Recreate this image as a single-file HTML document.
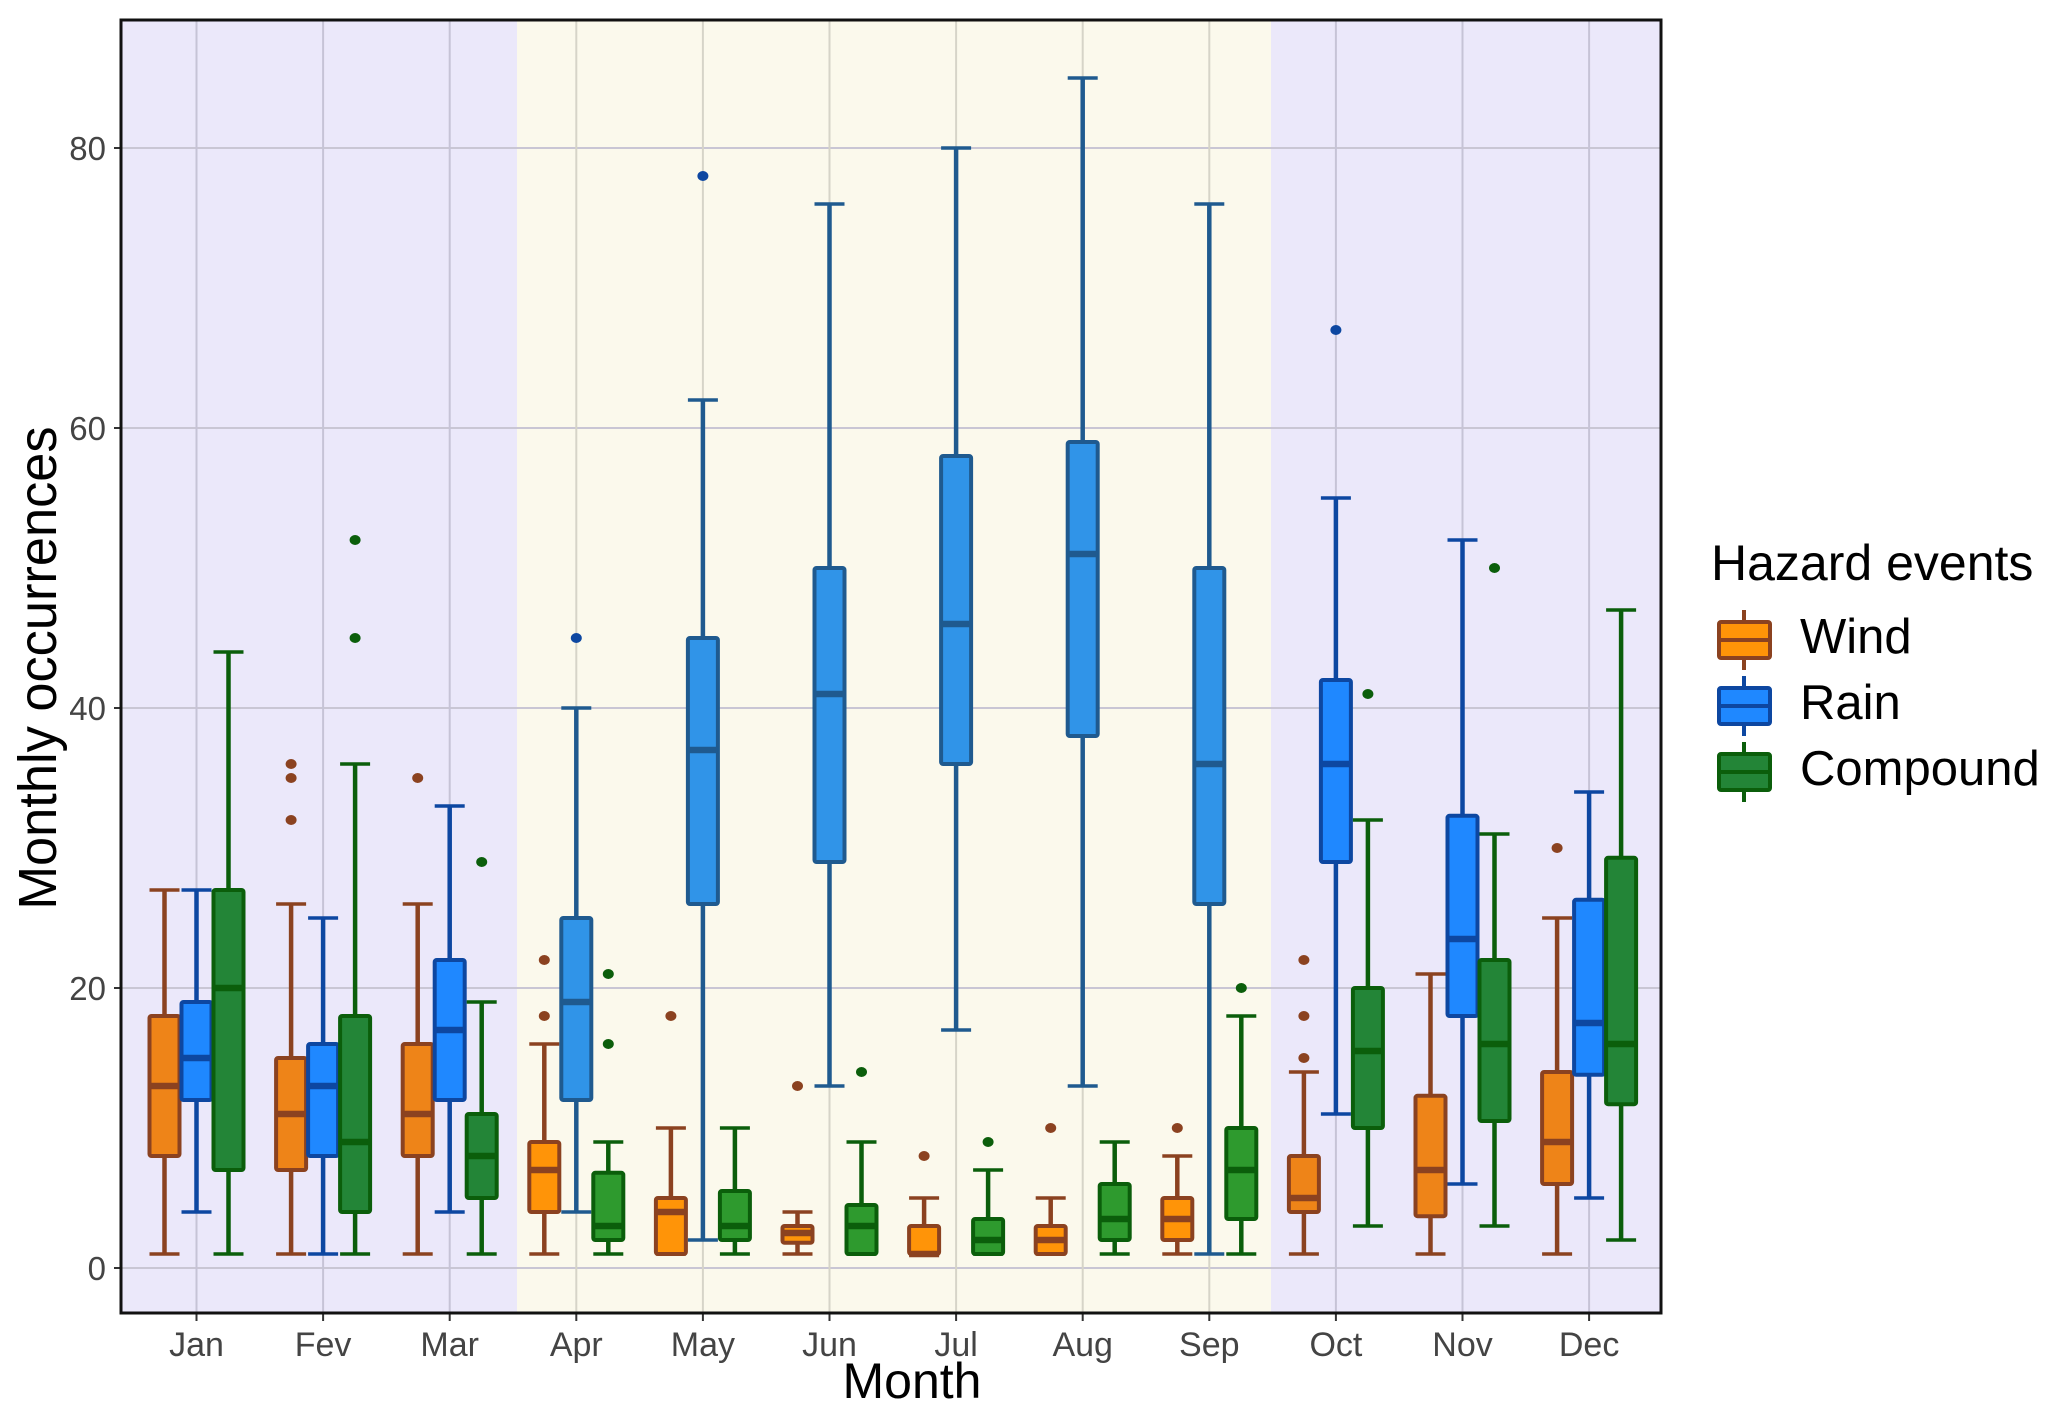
<!DOCTYPE html>
<html><head><meta charset="utf-8"><style>
html,body{margin:0;padding:0;background:#fff;}
svg{display:block;font-family:"Liberation Sans",sans-serif;}
</style></head><body>
<svg id="chart" width="2067" height="1418" viewBox="0 0 2067 1418" xmlns="http://www.w3.org/2000/svg"></svg>
<script>
const months=["Jan","Fev","Mar","Apr","May","Jun","Jul","Aug","Sep","Oct","Nov","Dec"];
const series=["Wind","Rain","Compound"];
// [lowWhisker, q1, median, q3, highWhisker]
const windStats=[[1,8,13,18,27],[1,7,11,15,26],[1,8,11,16,26],[1,4,7,9,16],[1,1,4,5,10],[1,1.8,2.5,3,4],[1,1,1,3,5],[1,1,2,3,5],[1,2,3.5,5,8],[1,4,5,8,14],[1,3.7,7,12.3,21],[1,6,9,14,25]];
const rainStats=[[4,12,15,19,27],[1,8,13,16,25],[4,12,17,22,33],[4,12,19,25,40],[2,26,37,45,62],[13,29,41,50,76],[17,36,46,58,80],[13,38,51,59,85],[1,26,36,50,76],[11,29,36,42,55],[6,18,23.5,32.3,52],[5,13.8,17.5,26.3,34]];
const compStats=[[1,7,20,27,44],[1,4,9,18,36],[1,5,8,11,19],[1,2,3,6.8,9],[1,2,3,5.5,10],[1,1,3,4.5,9],[1,1,2,3.5,7],[1,2,3.5,6,9],[1,3.5,7,10,18],[3,10,15.5,20,32],[3,10.5,16,22,31],[2,11.7,16,29.3,47]];
const windOut=[[],[32,35,36],[35],[18,22],[18],[13],[8],[10],[10],[15,18,22],[],[30]];
const rainOut=[[],[],[],[45],[78],[],[],[],[],[67],[],[]];
const compOut=[[],[45,52],[29],[16,21],[],[14],[9],[],[20],[41],[50],[]];
const yTicks=[0,20,40,60,80];

const svg=document.getElementById('chart');
const NS="http://www.w3.org/2000/svg";
const PL=121,PR=1661,PT=20,PB=1313;
const y=v=>1268-v*14.0;
const x=i=>196.5+i*126.6;
function mk(tag,attrs,parent){const e=document.createElementNS(NS,tag);for(const k in attrs)e.setAttribute(k,attrs[k]);(parent||svg).appendChild(e);return e;}

let bg=mk('rect',{x:PL,y:PT,width:PR-PL,height:PB-PT,fill:'#ebe8fa'});


let summer=mk('rect',{x:517,y:PT,width:1271-517,height:PB-PT,fill:'#fbf9ec'});


yTicks.forEach(t=>{
  let g=mk('line',{x1:PL,x2:PR,y1:y(t),y2:y(t),stroke:'#c9c6d4','stroke-width':2});
  
  
  let tl=mk('text',{x:106,y:y(t)+12,'text-anchor':'end','font-size':33,fill:'#444'});
  tl.textContent=t;
  
  
  mk('line',{x1:PL-7,x2:PL,y1:y(t),y2:y(t),stroke:'#333','stroke-width':2});
});
months.forEach((m,i)=>{
  let g=mk('line',{x1:x(i),x2:x(i),y1:PT,y2:PB,stroke:(i>=3&&i<=8)?'#d6d4c8':'#c6c3d6','stroke-width':2});
  
  
  mk('line',{x1:x(i),x2:x(i),y1:PB,y2:PB+8,stroke:'#333','stroke-width':2});
  let tl=mk('text',{x:x(i),y:1356,'text-anchor':'middle','font-size':34,fill:'#444'});
  tl.textContent=m;
  
  
});
const colors=[
  {fill:'#ee8418',sfill:'#ff9408',stroke:'#8b4220',pt:'#8b4220'},
  {fill:'#1f88ff',sfill:'#3094e8',stroke:'#0d47a1',sstroke:'#1f5a8f',pt:'#0d47a1'},
  {fill:'#238537',sfill:'#2e9a2e',stroke:'#0b5e0b',pt:'#0b5e0b'}];
const allStats=[windStats,rainStats,compStats];
const allOut=[windOut,rainOut,compOut];
const BW=30,OFF=32;
allStats.forEach((stats,s)=>{
  const c=colors[s];
  stats.forEach((st,i)=>{
    const summerM=i>=3&&i<=8;
    const cx=x(i)+(s-1)*OFF;
    const stroke=(summerM&&c.sstroke)?c.sstroke:c.stroke;
    const fill=summerM?c.sfill:c.fill;
    const g=mk('g',{});
    
    
    mk('line',{x1:cx,x2:cx,y1:y(st[0]),y2:y(st[1]),stroke:stroke,'stroke-width':4.5},g);
    mk('line',{x1:cx,x2:cx,y1:y(st[3]),y2:y(st[4]),stroke:stroke,'stroke-width':4.5},g);
    mk('line',{x1:cx-BW/2,x2:cx+BW/2,y1:y(st[0]),y2:y(st[0]),stroke:stroke,'stroke-width':3.5},g);
    mk('line',{x1:cx-BW/2,x2:cx+BW/2,y1:y(st[4]),y2:y(st[4]),stroke:stroke,'stroke-width':3.5},g);
    mk('rect',{x:cx-BW/2,y:y(st[3]),width:BW,height:Math.max(y(st[1])-y(st[3]),1),fill:fill,stroke:stroke,'stroke-width':4,rx:2},g);
    mk('line',{x1:cx-BW/2,x2:cx+BW/2,y1:y(st[2]),y2:y(st[2]),stroke:stroke,'stroke-width':6.5},g);
    allOut[s][i].forEach(o=>{
      const p=mk('ellipse',{cx:cx,cy:y(o),rx:5.5,ry:5,fill:c.pt},g);
      
      
    });
  });
});
let frame=mk('rect',{x:PL,y:PT,width:PR-PL,height:PB-PT,fill:'none',stroke:'#111','stroke-width':3});


let xt=mk('text',{x:912,y:1398,'text-anchor':'middle','font-size':50,fill:'#000'});
xt.textContent='Month';


let yt=mk('text',{x:0,y:0,'text-anchor':'middle','font-size':54,fill:'#000',transform:'translate(56,668) rotate(-90) scale(0.97,1)'});
yt.textContent='Monthly occurrences';


let lt=mk('text',{x:1711,y:580,'font-size':50,fill:'#000'});
lt.textContent='Hazard events';


const legY=[640,706,772];
series.forEach((n,s)=>{
  const c=colors[s];
  const g=mk('g',{});
  
  
  const cy=legY[s];
  mk('line',{x1:1744,x2:1744,y1:cy-30,y2:cy+30,stroke:c.stroke,'stroke-width':4},g);
  mk('rect',{x:1719,y:cy-18,width:51,height:36,fill:s==0?c.sfill:c.fill,stroke:c.stroke,'stroke-width':4,rx:2},g);
  mk('line',{x1:1719,x2:1770,y1:cy,y2:cy,stroke:c.stroke,'stroke-width':4},g);
  const t=mk('text',{x:1800,y:cy+13,'font-size':49,fill:'#000'},g);
  t.textContent=n;
});
</script>
</body></html>
